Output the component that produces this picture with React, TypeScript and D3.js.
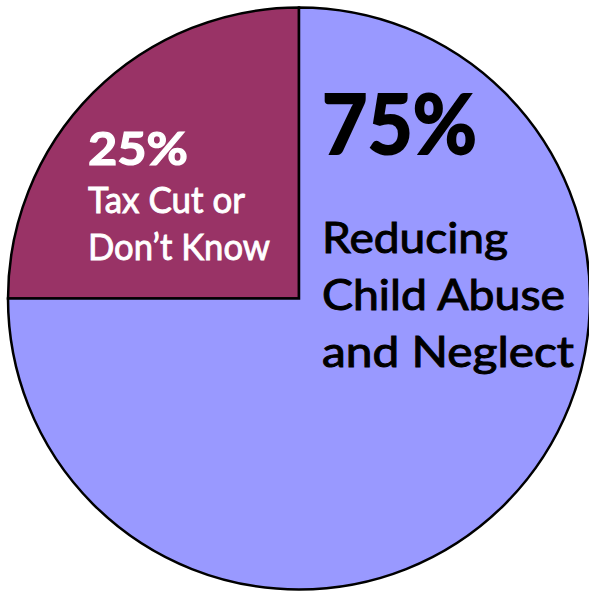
import React from "react";
import * as d3 from "d3";

const categories = ["Tax Cut or Don't Know", "Reducing Child Abuse and Neglect"];
const values = [25, 75];
const percentLabels = ["25%", "75%"];
const labelLines = [
  ["Tax Cut or", "Don\u2019t Know"],
  ["Reducing", "Child Abuse", "and Neglect"],
];
const colors = ["#993366", "#9999FF"];

const W = 589;
const H = 593;
const cx = 299;
const cy = 298.5;
const R = 291;

export default function App() {
  const pie = d3
    .pie<number>()
    .sort(null)
    .startAngle(-Math.PI / 2)
    .endAngle((3 * Math.PI) / 2);
  const arcs = pie(values);
  const arcGen = d3.arc<d3.PieArcDatum<number>>().innerRadius(0).outerRadius(R);
  const font = "Lato, 'Open Sans', sans-serif";

  return (
    <svg
      width={W}
      height={H}
      style={{ position: "absolute", left: 0, top: 0, background: "#fff" }}
    >
      <g transform={`translate(${cx},${cy})`}>
        {arcs.map((a, i) => (
          <path
            key={categories[i]}
            d={arcGen(a) || ""}
            fill={colors[i]}
            stroke="#000"
            strokeWidth={2.5}
            strokeLinejoin="miter"
          />
        ))}
      </g>
      {/* 25% slice label */}
      <text
        x={88}
        y={165}
        fill="#fff"
        stroke="#fff"
        strokeWidth={1.2}
        fontFamily={font}
        fontWeight={700}
        fontSize={46}
        textLength={100}
        lengthAdjust="spacingAndGlyphs"
      >
        {percentLabels[0]}
      </text>
      {labelLines[0].map((l, j) => (
        <text
          key={l}
          x={88}
          y={213 + j * 47}
          fill="#fff"
          stroke="#fff"
          strokeWidth={0.9}
          fontFamily={font}
          fontWeight={400}
          fontSize={37}
          textLength={j === 0 ? 157 : 182}
          lengthAdjust="spacingAndGlyphs"
        >
          {l}
        </text>
      ))}
      {/* 75% slice label */}
      <text
        x={322}
        y={154}
        fill="#000"
        stroke="#000"
        strokeWidth={2}
        fontFamily={font}
        fontWeight={700}
        fontSize={82}
        textLength={155}
        lengthAdjust="spacingAndGlyphs"
      >
        {percentLabels[1]}
      </text>
      {labelLines[1].map((l, j) => (
        <text
          key={l}
          x={322}
          y={253 + j * 57}
          fill="#000"
          stroke="#000"
          strokeWidth={1}
          fontFamily={font}
          fontWeight={400}
          fontSize={43}
          textLength={[186, 243, 252][j]}
          lengthAdjust="spacingAndGlyphs"
        >
          {l}
        </text>
      ))}
    </svg>
  );
}
